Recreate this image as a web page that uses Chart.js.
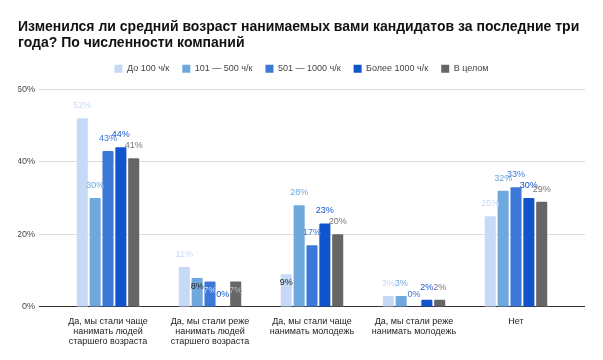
<!DOCTYPE html>
<html><head><meta charset="utf-8">
<script src="https://cdn.jsdelivr.net/npm/chart.js@4"></script>
<style>html,body{margin:0;padding:0;background:#fff}#wrap{width:603px;height:360px}</style>
</head><body><div id="wrap"><canvas id="c" width="603" height="360"></canvas></div>
<script>
const categories = [
  ["Да, мы стали чаще","нанимать людей","старшего возраста"],
  ["Да, мы стали реже","нанимать людей","старшего возраста"],
  ["Да, мы стали чаще","нанимать молодежь"],
  ["Да, мы стали реже","нанимать молодежь"],
  ["Нет"]
];
const seriesNames = ["До 100 ч/к","101 — 500 ч/к","501 — 1000 ч/к","Более 1000 ч/к","В целом"];
const upTo100 = [52, 11, 9, 3, 25];
const s101_500 = [30, 8, 28, 3, 32];
const s501_1000 = [43, 7, 17, 0, 33];
const over1000 = [44, 0, 23, 2, 30];
const overall = [41, 7, 20, 2, 29];
const yTicks = [0, 20, 40, 60];

const FONT = '"Liberation Sans", Arial, sans-serif';
const colors = ["#c6daf8","#6fa8dc","#3c78d8","#1155cc","#666666"];
const labelColors = ["#c6daf8","#6fa8dc","#3c78d8","#1155cc","#777777"];
const values = [upTo100, s101_500, s501_1000, over1000, overall];
// labels the reference draws inside the top of the bar: [series, category, colour]
const insideLabels = [[1, 1, '#222222'], [2, 1, '#c6daf8'], [4, 1, '#bbbbbb'], [0, 2, '#222222']];

const valueLabels = {
  id:'valueLabels',
  afterDatasetsDraw(chart){
    const ctx = chart.ctx;
    ctx.save();
    ctx.font = '9px ' + FONT;
    ctx.textAlign = 'center';
    ctx.textBaseline = 'alphabetic';
    chart.data.datasets.forEach((ds, di) => {
      const meta = chart.getDatasetMeta(di);
      meta.data.forEach((bar, i) => {
        const inside = insideLabels.find(e => e[0] === di && e[1] === i);
        ctx.fillStyle = inside ? inside[2] : labelColors[di];
        const y = inside ? bar.y + 11 : bar.y - 10;
        ctx.fillText(ds.data[i] + '%', bar.x, y);
      });
    });
    ctx.restore();
  }
};

// empty layout box: a small gap between the legend and the plot
const spacer = {
  id: 'spacer',
  beforeInit(chart){
    Chart.layouts.addBox(chart, {
      position: 'top', weight: 10, fullSize: true,
      options: {},
      update(maxWidth){ this.width = maxWidth; this.height = 6; },
      isHorizontal(){ return true; },
      getPadding(){ return {left:0,right:0,top:0,bottom:0}; },
      draw(){}
    });
  }
};

const gridColor = ctx => ctx.tick && ctx.tick.value === 0 ? '#333333' : '#dddddd';

new Chart(document.getElementById('c'), {
  type: 'bar',
  data: {
    labels: categories,
    datasets: values.map((v, i) => ({
      label: seriesNames[i],
      data: v,
      backgroundColor: colors[i],
      borderRadius: 1,
      barPercentage: 0.86,
      categoryPercentage: 0.63,
      yAxisID: 'y'
    }))
  },
  plugins: [valueLabels, spacer],
  options: {
    responsive: false,
    animation: false,
    layout: { padding: { left: 18, right: 18, top: 4, bottom: 12 } },
    plugins: {
      title: {
        display: true,
        text: ["Изменился ли средний возраст нанимаемых вами кандидатов за последние три","года? По численности компаний"],
        align: 'start',
        color: '#111',
        font: { family: FONT, size: 14, weight: 'bold', lineHeight: 1.15 },
        padding: { top: 15, bottom: 0 }
      },
      legend: {
        position: 'top',
        labels: {
          boxWidth: 8, boxHeight: 8, padding: 13,
          color: '#444',
          font: { family: FONT, size: 9 }
        }
      },
      tooltip: { enabled: false }
    },
    scales: {
      x: {
        grid: { display: false },
        border: { display: false },
        ticks: { color: '#222', maxRotation: 0, autoSkip: false, padding: 1,
          font: { family: FONT, size: 9, lineHeight: 1.15 } }
      },
      y: {
        min: 0, max: 60,
        afterBuildTicks(axis){ axis.ticks = yTicks.map(v => ({ value: v })); },
        afterFit(axis){ axis.width = 39; },
        border: { display: false },
        grid: { color: gridColor, drawTicks: true, tickLength: 18 },
        ticks: { padding: 4, color: '#444', callback: v => v + '%',
          font: { family: FONT, size: 9 } }
      },
      y2: {
        position: 'right',
        min: 0, max: 60,
        afterBuildTicks(axis){ axis.ticks = yTicks.map(v => ({ value: v })); },
        afterFit(axis){ axis.width = 18; },
        border: { display: false },
        grid: { color: gridColor, drawTicks: true, tickLength: 18, drawOnChartArea: false },
        ticks: { display: false }
      }
    }
  }
});
</script></body></html>
